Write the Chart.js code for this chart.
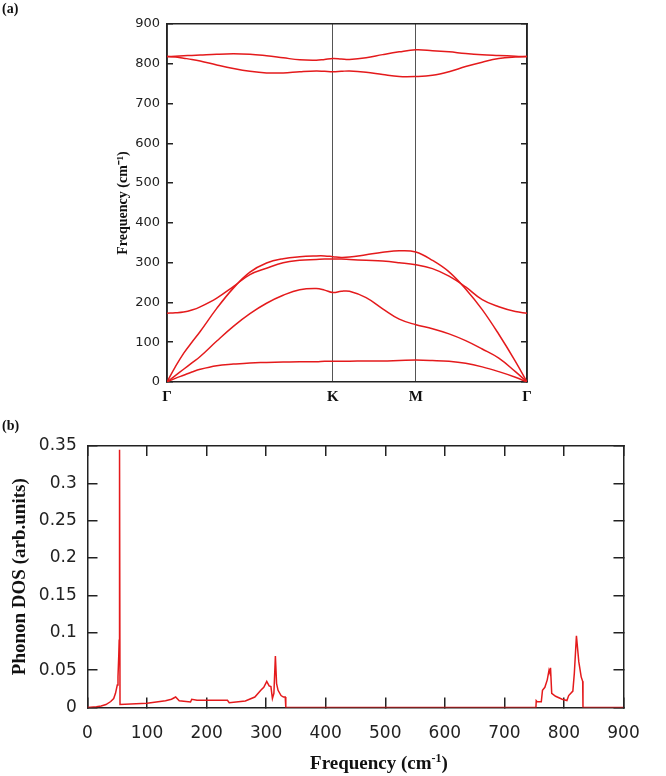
<!DOCTYPE html>
<html>
<head>
<meta charset="utf-8">
<script src="https://cdn.jsdelivr.net/npm/chart.js@4.4.0/dist/chart.umd.min.js"></script>
<style>
  body { margin: 0; background: #fff; }
  #wrap { position: relative; width: 666px; height: 776px; }
  canvas { position: absolute; left: 0; }
  .lbl { position: absolute; font: bold 14px 'Liberation Serif', serif; color: #111; }
  .xtitle { position: absolute; left: 279px; width: 200px; top: 751px; text-align: center;
            font: bold 19px 'Liberation Serif', serif; color: #111; line-height: 23px; }
  .xtitle sup { font-size: 12px; line-height: 0; }
</style>
</head>
<body>
<div id="wrap">
  <canvas id="bands" width="666" height="410" style="top:0"></canvas>
  <canvas id="dos" width="666" height="361" style="top:415px"></canvas>
  <div class="lbl" style="left:2px;top:1px">(a)</div>
  <div class="lbl" style="left:2px;top:418px">(b)</div>
  <div class="xtitle">Frequency (cm<sup>-1</sup>)</div>
</div>
<script>
// ---- panel (a): phonon dispersion along Γ-K-M-Γ ----
const kPath   = [0, 0.05, 0.1, 0.15, 0.2, 0.3, 0.4, 0.5, 0.6, 0.7, 0.8, 0.9, 0.95, 1.0, 1.05, 1.1, 1.2, 1.3, 1.4, 1.5, 1.6, 1.7, 1.8, 1.9, 2.0, 2.1, 2.17];
const kTicks  = [0, 1, 1.5, 2.17];
const kLabels = ['Γ', 'K', 'M', 'Γ'];

const bandZA  = [0, 9, 17, 25, 32, 41, 45, 48, 49, 50, 51, 51, 52, 52, 52, 52, 53, 53, 54, 55, 54, 52, 47, 38, 26, 12, 0];
const bandTA  = [0, 16, 32, 48, 64, 103, 140, 172, 198, 218, 232, 235, 231, 225, 228, 228, 212, 184, 158, 144, 134, 121, 104, 83, 60, 26, 0];
const bandLA  = [0, 38, 72, 100, 127, 185, 236, 276, 299, 310, 315, 317, 317, 315, 313, 314, 320, 326, 330, 327, 306, 277, 234, 182, 120, 52, 0];
const bandTO  = [173, 174, 176, 181, 189, 211, 240, 270, 286, 300, 306, 308, 309, 309, 309, 308, 306, 304, 300, 295, 285, 266, 239, 207, 189, 177, 173];
const bandLO1 = [818, 817, 814, 811, 807, 797, 788, 781, 777, 777, 780, 782, 781, 780, 781, 782, 779, 773, 768, 768, 771, 780, 793, 804, 813, 817, 818];
const bandLO2 = [818, 819, 820, 821, 822, 824, 825, 824, 820, 815, 810, 809, 811, 813, 812, 811, 815, 823, 830, 835, 833, 830, 826, 823, 821, 819, 818];

// ---- panel (b): phonon DOS ----
const dosFreq = [0, 15, 23, 31, 39, 44, 47, 50, 51.2, 52.5, 53.2, 53.8, 54.6, 100, 131, 141, 148, 154, 173, 175, 184, 235, 238, 265, 281, 291, 296, 301, 305, 308, 310.5, 313, 315.5, 317.5, 320, 325, 329, 332, 333,
                 753, 753.5, 755, 762, 764, 768, 772, 775, 776.5, 777.5, 779.5, 786, 797, 805, 808, 815, 817.5, 821, 825, 829, 831.5, 832, 900];
const dosVal  = [0, 0.001, 0.002, 0.004, 0.008, 0.012, 0.019, 0.03, 0.041, 0.07, 0.09, 0.345, 0.004, 0.0056, 0.009, 0.011, 0.014, 0.009, 0.0074, 0.011, 0.0096, 0.0096, 0.0064, 0.0087, 0.014, 0.023, 0.027, 0.035, 0.029, 0.028, 0.012, 0.019, 0.069, 0.032, 0.023, 0.016, 0.014, 0.014, 0,
                 0, 0.009, 0.0076, 0.0076, 0.023, 0.027, 0.037, 0.05, 0.046, 0.053, 0.019, 0.015, 0.011, 0.0093, 0.016, 0.022, 0.046, 0.096, 0.061, 0.041, 0.035, 0, 0];

Chart.defaults.font.family = "'DejaVu Sans', sans-serif";
Chart.defaults.color = '#222';
Chart.defaults.animation = false;

const serif = "'Liberation Serif', 'Times New Roman', serif";
const red = '#e41a1c';
const ink = '#222';

let pts = (xs, ys) => xs.map((x, i) => ({x: x, y: ys[i]}));

let branch = function(ys) {
  return {
    data: pts(kPath, ys),
    borderColor: red,
    borderWidth: 1.5,
    pointRadius: 0,
    tension: 0.4
  };
};

new Chart(document.getElementById('bands'), {
  type: 'line',
  data: {
    datasets: [bandZA, bandTA, bandLA, bandTO, bandLO1, bandLO2].map(branch)
  },
  options: {
    responsive: false,
    layout: { padding: { left: 110, right: 139, top: 24, bottom: 0 } },
    plugins: { legend: { display: false }, tooltip: { enabled: false } },
    scales: {
      x: {
        type: 'linear', min: 0, max: 2.17,
        afterFit: s => { s.height = 28; },
        afterBuildTicks: s => { s.ticks = kTicks.map(v => ({value: v})); },
        grid: { drawTicks: false, color: '#555', lineWidth: 1 },
        border: { color: ink, width: 1.5 },
        ticks: { autoSkip: false, maxRotation: 0, padding: 6, color: '#111',
                 font: { family: serif, weight: 'bold', size: 15 },
                 callback: (v, i) => kLabels[i] }
      },
      x2: {
        type: 'linear', position: 'top', min: 0, max: 2.17,
        afterFit: s => { s.height = 0; },
        grid: { display: false }, ticks: { display: false },
        border: { color: ink, width: 1.5 }
      },
      y: {
        min: 0, max: 900,
        afterFit: s => { s.width = 57; },
        ticks: { stepSize: 100, padding: 13, font: { size: 13 } },
        grid: { drawOnChartArea: false, tickLength: -6, color: ink, lineWidth: 1.5 },
        border: { color: ink, width: 1.5 },
        title: { display: true, text: 'Frequency (cm⁻¹)', color: '#111', padding: { top: 4.6 },
                 font: { family: serif, weight: 'bold', size: 14 } }
      },
      y2: {
        position: 'right', min: 0, max: 900,
        afterFit: s => { s.width = 0; },
        ticks: { stepSize: 100, display: false },
        grid: { drawOnChartArea: false, tickLength: -6, color: ink, lineWidth: 1.5 },
        border: { color: ink, width: 1.5 }
      }
    }
  }
});

new Chart(document.getElementById('dos'), {
  type: 'line',
  data: {
    datasets: [{
      data: pts(dosFreq, dosVal),
      borderColor: red,
      borderWidth: 1.5,
      pointRadius: 0,
      tension: 0
    }]
  },
  options: {
    responsive: false,
    layout: { padding: { left: 6, right: 20.5, top: 30.7, bottom: 0 } },
    plugins: { legend: { display: false }, tooltip: { enabled: false } },
    scales: {
      x: {
        type: 'linear', min: 0, max: 900, z: 1,
        afterFit: s => { s.height = 68.5; },
        ticks: { stepSize: 100, padding: 26.3, font: { size: 17 } },
        grid: { drawOnChartArea: false, tickLength: -10, color: ink, lineWidth: 1.5 },
        border: { color: ink, width: 1.5 }
      },
      x2: {
        type: 'linear', position: 'top', min: 0, max: 900,
        afterFit: s => { s.height = 0; },
        ticks: { stepSize: 100, display: false },
        grid: { drawOnChartArea: false, tickLength: -10, color: ink, lineWidth: 1.5 },
        border: { color: ink, width: 1.5 }
      },
      y: {
        min: 0, max: 0.35,
        afterFit: s => { s.width = 81.5; },
        ticks: { stepSize: 0.05, padding: 20.8, font: { size: 17 },
                 callback: v => String(+v.toFixed(2)) },
        grid: { drawOnChartArea: false, tickLength: -10, color: ink, lineWidth: 1.5 },
        border: { color: ink, width: 1.5 },
        title: { display: true, text: 'Phonon DOS (arb.units)', color: '#111', padding: { top: 3 },
                 font: { family: serif, weight: 'bold', size: 19 } }
      },
      y2: {
        position: 'right', min: 0, max: 0.35,
        afterFit: s => { s.width = 0; },
        ticks: { stepSize: 0.05, display: false },
        grid: { drawOnChartArea: false, tickLength: -10, color: ink, lineWidth: 1.5 },
        border: { color: ink, width: 1.5 }
      }
    }
  }
});
</script>
</body>
</html>
